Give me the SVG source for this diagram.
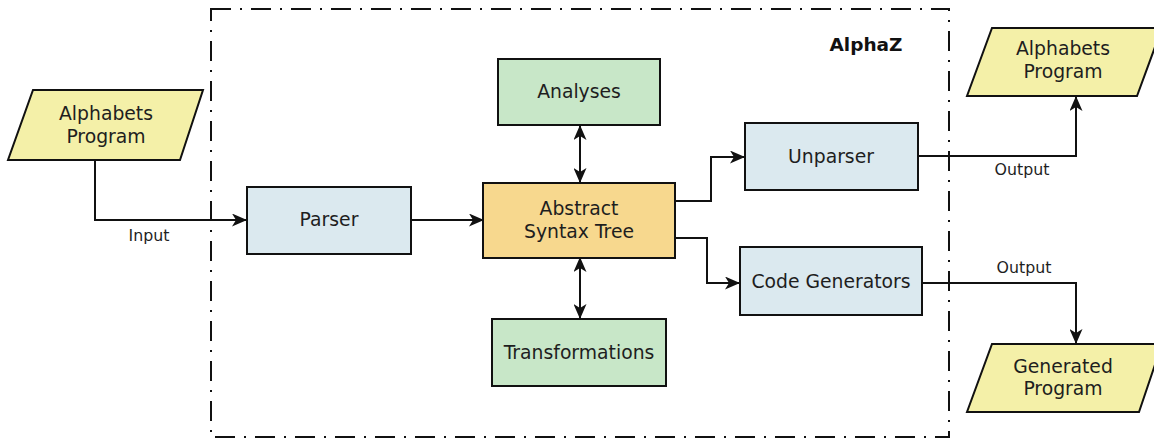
<svg xmlns="http://www.w3.org/2000/svg" width="1154" height="441" viewBox="0 0 1154 441">
<style>
.box{stroke:#111;stroke-width:2}
.io{fill:#f4f0a8}
.blue{fill:#dbe9ef}
.green{fill:#c8e7c8}
.ast{fill:#f7d88e}
.t{font-family:"DejaVu Sans",sans-serif;font-size:18.8px;fill:#1e1e1e;text-anchor:middle}
.s{font-family:"DejaVu Sans",sans-serif;font-size:15.8px;fill:#1e1e1e;text-anchor:middle}
.b{font-family:"DejaVu Sans",sans-serif;font-size:18.5px;font-weight:bold;fill:#111;text-anchor:middle}
.c{fill:none;stroke:#111;stroke-width:2}
</style>
<defs>
<marker id="ah" viewBox="0 0 15 13" refX="14" refY="6.5" markerWidth="15" markerHeight="13" markerUnits="userSpaceOnUse" orient="auto-start-reverse">
<path d="M0,0 L15,6.5 L0,13 L4,6.5 z" fill="#111"/>
</marker>
</defs>
<rect id="frame" x="211" y="9" width="738" height="428" fill="none" stroke="#111" stroke-width="2" stroke-dasharray="20 9 2 9"/>
<text class="b" x="866" y="51">AlphaZ</text>
<g id="connectors">
<path class="c" d="M95,160 V220 H246" marker-end="url(#ah)"/>
<path class="c" d="M411,220 H483" marker-end="url(#ah)"/>
<path class="c" d="M580,126 V182" marker-start="url(#ah)" marker-end="url(#ah)"/>
<path class="c" d="M580,258 V318" marker-start="url(#ah)" marker-end="url(#ah)"/>
<path class="c" d="M675,201 H711 V157 H744" marker-end="url(#ah)"/>
<path class="c" d="M675,238 H707 V283 H739" marker-end="url(#ah)"/>
<path class="c" d="M918,156 H1076 V97" marker-end="url(#ah)"/>
<path class="c" d="M922,283 H1076 V343" marker-end="url(#ah)"/>
<text class="s" x="149" y="241">Input</text>
<text class="s" x="1022" y="175">Output</text>
<text class="s" x="1024" y="273">Output</text>
</g>
<g id="input">
<polygon class="box io" points="33,90 203,90 180,160 8,160"/>
<text class="t" x="106" y="120">Alphabets</text>
<text class="t" x="106" y="143">Program</text>
</g>
<g id="parser">
<rect class="box blue" x="247" y="187" width="164" height="67"/>
<text class="t" x="329" y="226">Parser</text>
</g>
<g id="ast">
<rect class="box ast" x="483" y="183" width="192" height="75"/>
<text class="t" x="579" y="215">Abstract</text>
<text class="t" x="579" y="238">Syntax Tree</text>
</g>
<g id="analyses">
<rect class="box green" x="498" y="59" width="162" height="66"/>
<text class="t" x="579" y="98">Analyses</text>
</g>
<g id="transformations">
<rect class="box green" x="492" y="319" width="174" height="67"/>
<text class="t" x="579" y="359">Transformations</text>
</g>
<g id="unparser">
<rect class="box blue" x="745" y="123" width="173" height="67"/>
<text class="t" x="831" y="163">Unparser</text>
</g>
<g id="codegen">
<rect class="box blue" x="740" y="247" width="182" height="68"/>
<text class="t" x="831" y="288">Code Generators</text>
</g>
<g id="output1">
<polygon class="box io" points="992,28 1162,28 1137,96 967,96"/>
<text class="t" x="1063" y="55">Alphabets</text>
<text class="t" x="1063" y="78">Program</text>
</g>
<g id="output2">
<polygon class="box io" points="992,344 1162,344 1139,412 967,412"/>
<text class="t" x="1063" y="373">Generated</text>
<text class="t" x="1063" y="395">Program</text>
</g>
</svg>
